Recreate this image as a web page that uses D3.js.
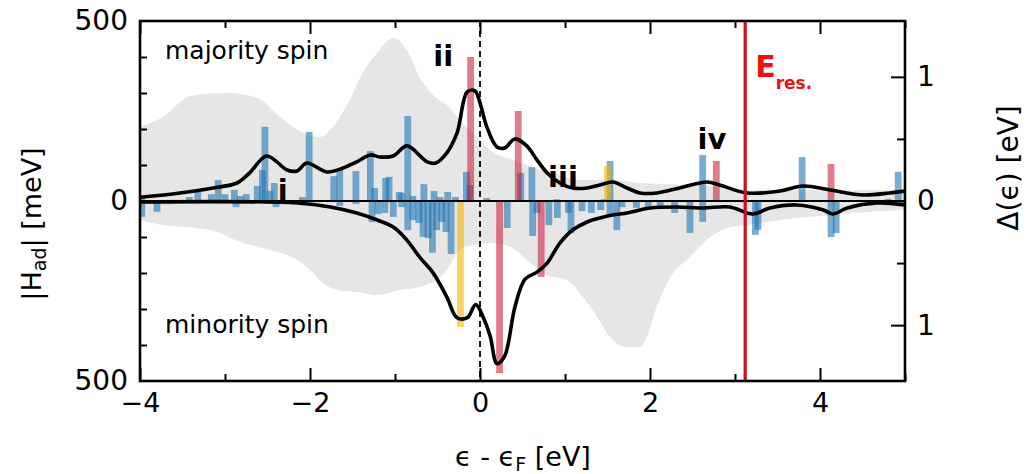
<!DOCTYPE html>
<html>
<head>
<meta charset="utf-8">
<script src="https://cdn.jsdelivr.net/npm/d3@7"></script>
<style>
  body { margin: 0; background: #fff; }
  svg text { font-family: "DejaVu Sans", sans-serif; }
</style>
</head>
<body>
<div id="chart"></div>
<script>
// grey DOS envelopes (meV scale), majority up / minority down
var dosUpE = [-4, -3.73, -3.41, -2.98, -2.62, -2.35, -2.08, -1.88, -1.73, -1.53, -1.38, -1.21, -1.02, -0.86, -0.71, -0.55, -0.39, -0.24, 0, 0.15, 0.39, 0.62, 0.86, 1.18, 1.56, 1.88, 2.6, 3.3, 5];
var dosUpV = [206, 233, 292, 300, 286, 233, 189, 178, 206, 281, 356, 411, 453, 419, 344, 294, 267, 225, 169, 136, 114, 94, 78, 58, 58, 50, 44, 30, 30];
var dosDnE = [-4, -3.73, -3.33, -3.09, -2.82, -2.55, -2.35, -2.15, -2.0, -1.85, -1.68, -1.45, -1.21, -0.94, -0.71, -0.39, -0.24, -0.08, 0.15, 0.39, 0.55, 0.79, 1.02, 1.21, 1.38, 1.53, 1.73, 1.88, 1.96, 2.08, 2.24, 2.47, 2.71, 2.91, 3.14, 3.53, 4.12, 4.5, 5];
var dosDnV = [53, 67, 75, 86, 114, 131, 144, 164, 192, 228, 247, 253, 261, 247, 239, 192, 136, 122, 117, 131, 164, 206, 219, 267, 322, 378, 406, 406, 378, 294, 211, 156, 100, 75, 67, 53, 39, 31, 25];

// hybridisation function Delta (eV)
var deltaUpE = [-4, -3.53, -3.14, -2.86, -2.71, -2.51, -2.27, -2.15, -2.04, -1.8, -1.61, -1.45, -1.29, -1.18, -1.02, -0.86, -0.62, -0.52, -0.39, -0.27, -0.15, -0.06, 0, 0.08, 0.2, 0.29, 0.41, 0.55, 0.67, 0.79, 0.94, 1.09, 1.26, 1.41, 1.56, 1.73, 1.88, 2.08, 2.35, 2.67, 2.82, 3.14, 3.53, 3.8, 4.12, 4.51, 4.82, 5];
var deltaUpV = [0.03, 0.065, 0.105, 0.145, 0.226, 0.363, 0.25, 0.242, 0.306, 0.234, 0.266, 0.315, 0.371, 0.355, 0.363, 0.444, 0.315, 0.306, 0.387, 0.548, 0.879, 0.887, 0.79, 0.597, 0.435, 0.427, 0.5, 0.444, 0.331, 0.226, 0.145, 0.105, 0.105, 0.129, 0.153, 0.105, 0.065, 0.065, 0.105, 0.153, 0.129, 0.065, 0.08, 0.121, 0.089, 0.048, 0.065, 0.08];
var deltaDnE = [-4, -2.15, -1.76, -1.45, -1.21, -1.02, -0.86, -0.71, -0.55, -0.39, -0.27, -0.15, -0.05, 0.04, 0.12, 0.2, 0.29, 0.41, 0.53, 0.67, 0.79, 0.94, 1.09, 1.26, 1.41, 1.56, 1.73, 1.88, 2.0, 2.32, 2.62, 2.94, 3.21, 3.41, 3.73, 4.04, 4.15, 4.32, 4.67, 5];
var deltaDnV = [0.008, 0.016, 0.048, 0.097, 0.153, 0.21, 0.315, 0.452, 0.581, 0.774, 0.94, 0.94, 0.835, 0.94, 1.09, 1.31, 1.25, 0.855, 0.629, 0.573, 0.5, 0.339, 0.234, 0.169, 0.137, 0.113, 0.097, 0.073, 0.056, 0.048, 0.056, 0.048, 0.105, 0.056, 0.032, 0.073, 0.105, 0.056, 0.016, 0.032];

// |H_ad| bars (meV)
var blueUpE = [-3.98, -3.42, -3.32, -3.16, -3.08, -3.0, -2.89, -2.82, -2.75, -2.62, -2.56, -2.53, -2.47, -2.42, -2.09, -2.01, -1.72, -1.65, -1.46, -1.29, -1.24, -1.11, -1.07, -0.95, -0.92, -0.85, -0.79, -0.66, -0.54, -0.47, -0.38, -0.29, -0.16, -0.12, 0.08, 0.48, 0.61, 1.53, 2.62, 3.79, 4.8, 4.92];
var blueUpV = [8, 11, 31, 19, 58, 19, 31, 14, 19, 42, 86, 206, 28, 50, 11, 192, 69, 89, 83, 139, 36, 64, 67, 25, 22, 236, 14, 47, 28, 11, 25, 11, 81, 44, 8, 78, 94, 111, 128, 122, 6, 81];
var blueDnE = [-3.98, -3.8, -3.65, -2.87, -2.4, -2.08, -1.65, -1.46, -1.27, -1.2, -1.12, -1.02, -0.92, -0.85, -0.79, -0.72, -0.67, -0.61, -0.56, -0.51, -0.45, -0.4, -0.34, 0.32, 0.62, 0.67, 0.81, 0.91, 1.04, 1.07, 1.2, 1.31, 1.42, 1.53, 1.61, 1.67, 1.84, 1.98, 2.12, 2.29, 2.47, 2.62, 3.24, 3.27, 4.13, 4.19];
var blueDnV = [44, 30, 8, 17, 17, 8, 14, 8, 58, 36, 33, 44, 17, 81, 53, 61, 100, 103, 144, 81, 58, 86, 147, 75, 97, 33, 67, 47, 33, 89, 28, 33, 25, 44, 81, 17, 19, 19, 14, 33, 89, 58, 94, 80, 100, 89];
var redUpE = [-0.11, 0.45, 0.9, 1.46, 2.78, 4.13];
var redUpV = [400, 250, 5, 5, 111, 103];
var redDnE = [0.23, 0.72];
var redDnV = [478, 211];
var yellowUpE = [1.5];
var yellowUpV = [97];
var yellowDnE = [-0.23];
var yellowDnV = [350];

var eRes = 3.12;
var peakNames = ["i", "ii", "iii", "iv"];
var peakE = [-2.38, -0.55, 0.8, 2.56];
var peakV = [0, 372, 36, 142];

var xTicksMajor = [-4, -2, 0, 2, 4];
var xTicksMinor = [-3, -1, 1, 3, 5];

var W = 1033, H = 474;
var margin = {top: 21, right: 128, bottom: 93, left: 140};
var width = W - margin.left - margin.right,
    height = H - margin.top - margin.bottom;

var svg = d3.select("#chart").append("svg")
    .attr("width", W)
    .attr("height", H);

var g = svg.append("g")
    .attr("transform", "translate(" + margin.left + "," + margin.top + ")");

var x = d3.scaleLinear().domain([-4, 5]).range([0, width]);
var y = d3.scaleLinear().domain([-500, 500]).range([height, 0]);
var yD = d3.scaleLinear().domain([-1.45, 1.45]).range([height, 0]);

function pairs(es, vs, sign) {
  return es.map(function(e, i) { return {e: e, v: sign * vs[i]}; });
}

g.append("defs").append("clipPath").attr("id", "clip")
  .append("rect").attr("width", width).attr("height", height);

var plot = g.append("g").attr("clip-path", "url(#clip)");

// grey areas
var area = d3.area()
    .x(function(d) { return x(d.e); })
    .y0(y(0))
    .y1(function(d) { return y(d.v); })
    .curve(d3.curveMonotoneX);

plot.append("path").datum(pairs(dosUpE, dosUpV, 1))
    .attr("fill", "#e6e6e6").attr("d", area);
plot.append("path").datum(pairs(dosDnE, dosDnV, -1))
    .attr("fill", "#e6e6e6").attr("d", area);

// bars
var barW = x(0.08) - x(0);
function bars(es, vs, sign, color, op) {
  plot.append("g").selectAll("rect")
    .data(pairs(es, vs, sign))
    .enter().append("rect")
      .attr("x", function(d) { return x(d.e) - barW / 2; })
      .attr("y", function(d) { return Math.min(y(d.v), y(0)); })
      .attr("width", barW)
      .attr("height", function(d) { return Math.abs(y(d.v) - y(0)); })
      .attr("fill", color)
      .attr("fill-opacity", op);
}
bars(blueUpE, blueUpV, 1, "#1f77b4", 0.6);
bars(blueDnE, blueDnV, -1, "#1f77b4", 0.6);
bars(redUpE, redUpV, 1, "#c8102e", 0.55);
bars(redDnE, redDnV, -1, "#c8102e", 0.55);
bars(yellowUpE, yellowUpV, 1, "#f7b500", 0.6);
bars(yellowDnE, yellowDnV, -1, "#f7b500", 0.6);

// zero line and Fermi level
plot.append("line")
    .attr("x1", 0).attr("x2", width)
    .attr("y1", y(0)).attr("y2", y(0))
    .attr("stroke", "#000").attr("stroke-width", 2.2);
plot.append("line")
    .attr("x1", x(0)).attr("x2", x(0))
    .attr("y1", 0).attr("y2", height)
    .attr("stroke", "#000").attr("stroke-width", 1.8)
    .attr("stroke-dasharray", "6,4");

// Delta lines
var line = d3.line()
    .x(function(d) { return x(d.e); })
    .y(function(d) { return yD(d.v); })
    .curve(d3.curveCatmullRom);
plot.append("path").datum(pairs(deltaUpE, deltaUpV, 1))
    .attr("fill", "none").attr("stroke", "#000").attr("stroke-width", 3.6)
    .attr("stroke-linejoin", "round").attr("d", line);
plot.append("path").datum(pairs(deltaDnE, deltaDnV, -1))
    .attr("fill", "none").attr("stroke", "#000").attr("stroke-width", 3.6)
    .attr("stroke-linejoin", "round").attr("d", line);

// resonance energy
plot.append("line")
    .attr("x1", x(eRes)).attr("x2", x(eRes))
    .attr("y1", 0).attr("y2", height)
    .attr("stroke", "#cc0f1f").attr("stroke-width", 3.2);

// axes
function clean(sel) { sel.select(".domain").remove(); sel.selectAll("line").attr("stroke", "#000").attr("stroke-width", 2); }

g.append("g").attr("transform", "translate(0," + height + ")")
  .call(d3.axisBottom(x).tickValues(xTicksMajor).tickSize(-13).tickPadding(12)
        .tickFormat(function(d) { return d < 0 ? "\u2212" + Math.abs(d) : d; }))
  .call(clean)
  .selectAll("text").attr("font-size", 27).attr("fill", "#000");
g.append("g").attr("transform", "translate(0," + height + ")")
  .call(d3.axisBottom(x).tickValues(xTicksMinor).tickSize(-7).tickFormat(""))
  .call(clean);
g.append("g")
  .call(d3.axisTop(x).tickValues(xTicksMajor).tickSize(-13).tickFormat(""))
  .call(clean);
g.append("g")
  .call(d3.axisTop(x).tickValues(xTicksMinor).tickSize(-7).tickFormat(""))
  .call(clean);

g.append("g")
  .call(d3.axisLeft(y).tickValues([-500, 0, 500]).tickSize(0).tickPadding(12)
        .tickFormat(function(d) { return Math.abs(d); }))
  .call(clean)
  .selectAll("text").attr("font-size", 28).attr("fill", "#000");
g.append("g")
  .call(d3.axisLeft(y).tickValues([-400, -300, -200, -100, 100, 200, 300, 400]).tickSize(-7).tickFormat(""))
  .call(clean);

g.append("g").attr("transform", "translate(" + width + ",0)")
  .call(d3.axisRight(yD).tickValues([-1, 0, 1]).tickSize(-14).tickPadding(12)
        .tickFormat(function(d) { return Math.abs(d); }))
  .call(clean)
  .selectAll("text").attr("font-size", 28).attr("fill", "#000");
g.append("g").attr("transform", "translate(" + width + ",0)")
  .call(d3.axisRight(yD).tickValues([-0.5, 0.5]).tickSize(-8).tickFormat(""))
  .call(clean);

// frame
g.append("rect").attr("width", width).attr("height", height)
  .attr("fill", "none").attr("stroke", "#000").attr("stroke-width", 2.6);

// spin labels
g.append("text").attr("x", 25).attr("y", 38).attr("font-size", 25).text("majority spin");
g.append("text").attr("x", 25).attr("y", 312).attr("font-size", 25).text("minority spin");

// peak labels
g.selectAll(".peak").data(peakNames).enter().append("text")
  .attr("class", "peak")
  .attr("x", function(d, i) { return x(peakE[i]); })
  .attr("y", function(d, i) { return y(peakV[i]) - 1; })
  .attr("font-size", 29).attr("font-weight", "bold")
  .text(function(d) { return d; });

// E_res label
var er = g.append("text").attr("x", x(eRes) + 10).attr("y", 56)
  .attr("fill", "#ee1111").attr("font-weight", "bold");
er.append("tspan").attr("font-size", 30).text("E");
er.append("tspan").attr("font-size", 17).attr("dy", 12).text("res.");

// axis titles
var xl = svg.append("text").attr("x", 523).attr("y", 466).attr("text-anchor", "middle").attr("font-size", 27);
xl.append("tspan").text("\u03f5 - \u03f5");
xl.append("tspan").attr("font-size", 19).attr("dy", 5).text("F");
xl.append("tspan").attr("dy", -5).text("  [eV]");

var yl = svg.append("text").attr("transform", "translate(41,224) rotate(-90)")
  .attr("text-anchor", "middle").attr("font-size", 27);
yl.append("tspan").text("|H");
yl.append("tspan").attr("font-size", 19).attr("dy", 5).text("ad");
yl.append("tspan").attr("dy", -5).text("|  [meV]");

svg.append("text").attr("transform", "translate(1018,168) rotate(-90)")
  .attr("text-anchor", "middle").attr("font-size", 28)
  .text("\u0394(\u03f5)  [eV]");
</script>
</body>
</html>
